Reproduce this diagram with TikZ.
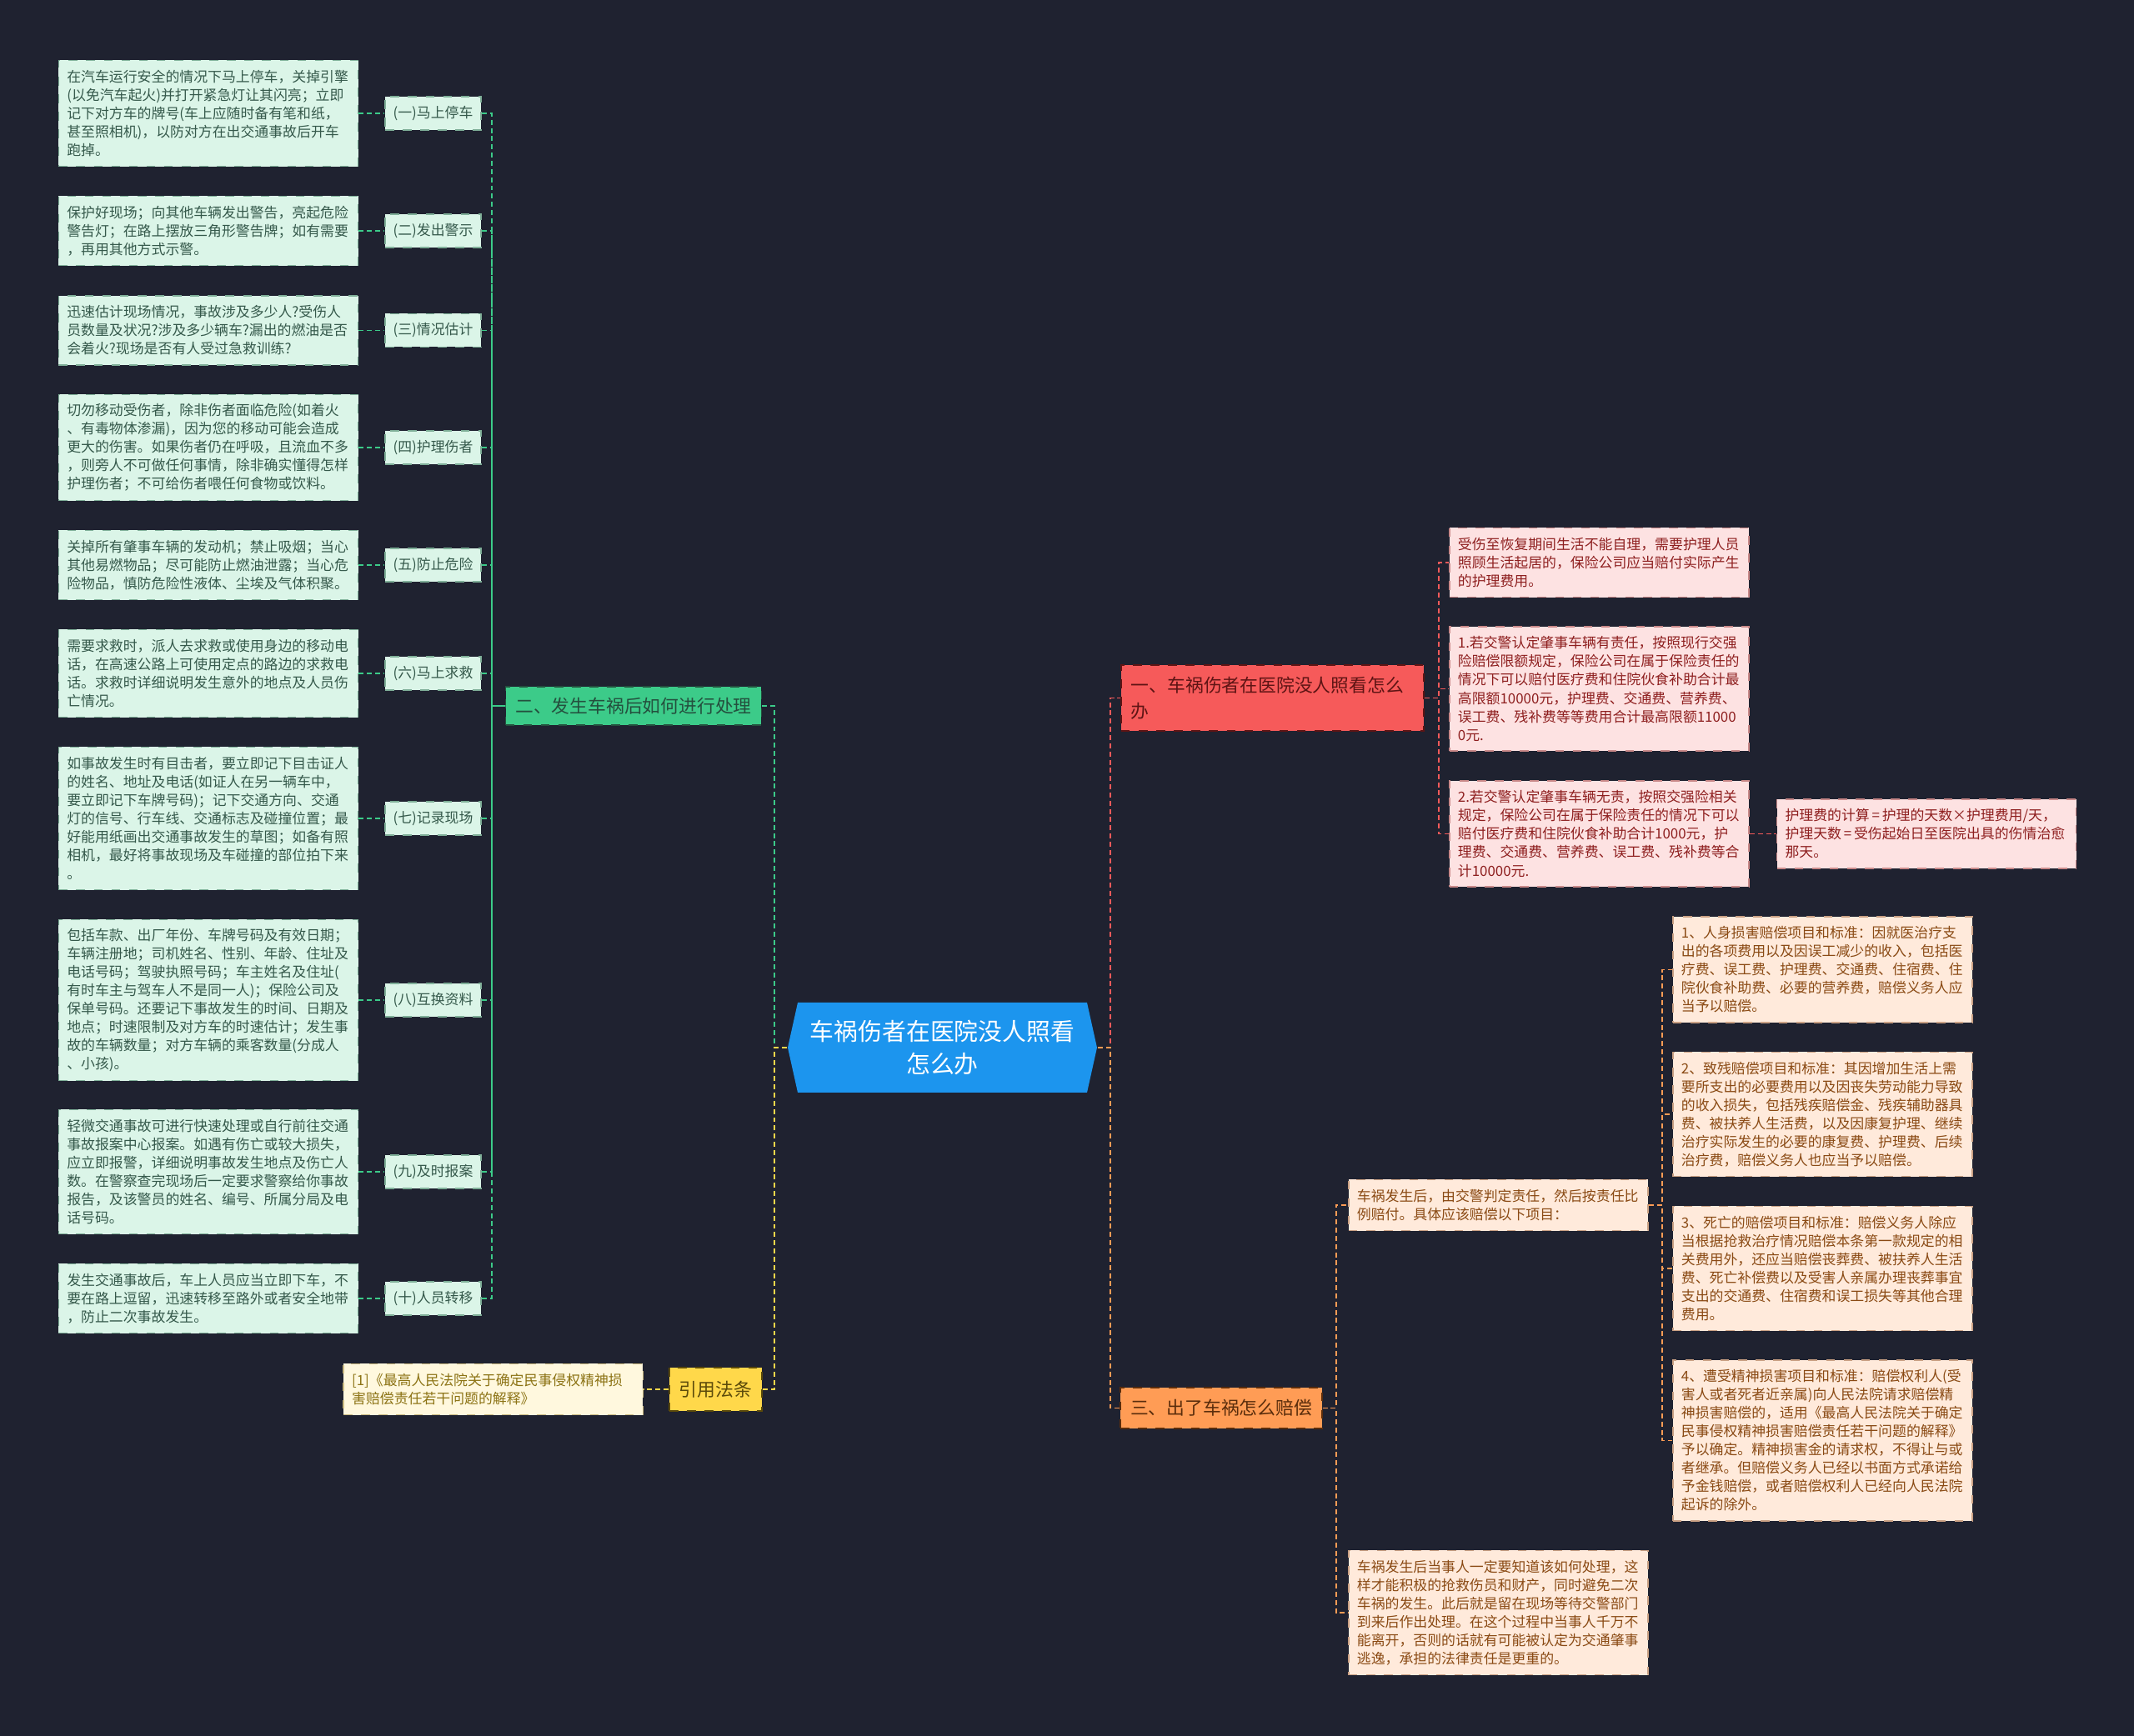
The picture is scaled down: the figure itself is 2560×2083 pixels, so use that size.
\documentclass[tikz,border=0pt]{standalone}
\usepackage{fontspec}
\setmainfont{Noto Sans CJK SC}
\usetikzlibrary{positioning}
\definecolor{pagebg}{HTML}{1F2230}
\definecolor{hubblue}{HTML}{1C95EE}
\definecolor{grn}{HTML}{3CCB89}
\definecolor{grndark}{HTML}{24503E}
\definecolor{grnleaf}{HTML}{DBF5E8}
\definecolor{grnline}{HTML}{7FAF98}
\definecolor{grntext}{HTML}{35594B}
\definecolor{red}{HTML}{F65A5A}
\definecolor{reddark}{HTML}{5E1414}
\definecolor{redleaf}{HTML}{FDE2E2}
\definecolor{redline}{HTML}{C98989}
\definecolor{redtext}{HTML}{8E1F1F}
\definecolor{org}{HTML}{FF9C55}
\definecolor{orgdark}{HTML}{5A2D0C}
\definecolor{orgleaf}{HTML}{FFEADB}
\definecolor{orgline}{HTML}{C9A083}
\definecolor{orgtext}{HTML}{8A4A14}
\definecolor{ylw}{HTML}{FFD84A}
\definecolor{ylwdark}{HTML}{5B4A0A}
\definecolor{ylwleaf}{HTML}{FFF8DE}
\definecolor{ylwline}{HTML}{C9B980}
\definecolor{ylwtext}{HTML}{8C7315}

\begin{document}
\begin{tikzpicture}[x=0.01cm, y=-0.01cm,
  leaf/.style={dashed, line width=0.4pt, text width=3.39cm, inner xsep=0.1cm,
               inner ysep=0pt, align=left, font=\fontsize{4.8pt}{6.26pt}\selectfont},
  nl/.style={minimum height=#1*0.22cm+0.17cm},
  gleaf/.style={leaf, fill=grnleaf, draw=grnline, text=grntext},
  rleaf/.style={leaf, fill=redleaf, draw=redline, text=redtext},
  oleaf/.style={leaf, fill=orgleaf, draw=orgline, text=orgtext},
  yleaf/.style={leaf, fill=ylwleaf, draw=ylwline, text=ylwtext},
  tag/.style={dashed, line width=0.4pt, fill=grnleaf, draw=grnline, text=grntext,
              minimum width=1.15cm, minimum height=0.40cm, inner sep=0pt,
              font=\fontsize{4.8pt}{6.26pt}\selectfont},
  branch/.style={dashed, line width=0.5pt, inner ysep=0pt,
                 font=\fontsize{6.2pt}{8.8pt}\selectfont},
  link/.style={line width=0.55pt, dash pattern=on 1.7pt off 1.1pt},
  glink/.style={link, grn}, rlink/.style={link, red},
  olink/.style={link, org}, ylink/.style={link, ylw}]

  % page
  \fill[pagebg] (0,0) rectangle (2560,2083);

  % centre topic
  \fill[hubblue] (945,1257) -- (957,1203) -- (1304,1203) -- (1316,1257)
    -- (1304,1311) -- (957,1311) -- cycle;
  \node[text=white, align=center, minimum width=3.71cm, minimum height=1.08cm,
        font=\fontsize{8.2pt}{11pt}\selectfont] (ctr) at (1130.5,1257)
    {车祸伤者在医院没人照看\\怎么办};

  % main branches
  \node[branch, fill=grn, draw=grndark, text=grndark, minimum width=3.06cm,
        minimum height=0.46cm] (br2) at (760,847) {二、发生车祸后如何进行处理};
  \node[branch, fill=ylw, draw=ylwdark, text=ylwdark, minimum width=1.11cm,
        minimum height=0.52cm] (br4) at (858.5,1667) {引用法条};
  \node[branch, fill=red, draw=reddark, text=reddark, text width=3.39cm,
        inner xsep=0.12cm, align=left, minimum height=0.79cm] (br1) at (1526.5,837.5)
    {一、车祸伤者在医院没人照看怎么\\办};
  \node[branch, fill=org, draw=orgdark, text=orgdark, minimum width=2.40cm,
        minimum height=0.49cm] (br3) at (1465,1689.5) {三、出了车祸怎么赔偿};

  % left: steps after the accident
  \node[tag] (tg1) at (519.5,136) {(一)马上停车};
  \node[tag] (tg2) at (519.5,277) {(二)发出警示};
  \node[tag] (tg3) at (519.5,396.5) {(三)情况估计};
  \node[tag] (tg4) at (519.5,537) {(四)护理伤者};
  \node[tag] (tg5) at (519.5,678) {(五)防止危险};
  \node[tag] (tg6) at (519.5,808) {(六)马上求救};
  \node[tag] (tg7) at (519.5,982) {(七)记录现场};
  \node[tag] (tg8) at (519.5,1200) {(八)互换资料};
  \node[tag] (tg9) at (519.5,1406) {(九)及时报案};
  \node[tag] (tg10) at (519.5,1558) {(十)人员转移};

  \node[gleaf, nl=5, left=0.31cm of tg1] (gl1)
    {在汽车运行安全的情况下马上停车，关掉引擎\\(以免汽车起火)并打开紧急灯让其闪亮；立即\\记下对方车的牌号(车上应随时备有笔和纸，\\甚至照相机)，以防对方在出交通事故后开车\\跑掉。};
  \node[gleaf, nl=3, left=0.31cm of tg2] (gl2)
    {保护好现场；向其他车辆发出警告，亮起危险\\警告灯；在路上摆放三角形警告牌；如有需要\\，再用其他方式示警。};
  \node[gleaf, nl=3, left=0.31cm of tg3] (gl3)
    {迅速估计现场情况，事故涉及多少人?受伤人\\员数量及状况?涉及多少辆车?漏出的燃油是否\\会着火?现场是否有人受过急救训练?};
  \node[gleaf, nl=5, left=0.31cm of tg4] (gl4)
    {切勿移动受伤者，除非伤者面临危险(如着火\\、有毒物体渗漏)，因为您的移动可能会造成\\更大的伤害。如果伤者仍在呼吸，且流血不多\\，则旁人不可做任何事情，除非确实懂得怎样\\护理伤者；不可给伤者喂任何食物或饮料。};
  \node[gleaf, nl=3, left=0.31cm of tg5] (gl5)
    {关掉所有肇事车辆的发动机；禁止吸烟；当心\\其他易燃物品；尽可能防止燃油泄露；当心危\\险物品，慎防危险性液体、尘埃及气体积聚。};
  \node[gleaf, nl=4, left=0.31cm of tg6] (gl6)
    {需要求救时，派人去求救或使用身边的移动电\\话，在高速公路上可使用定点的路边的求救电\\话。求救时详细说明发生意外的地点及人员伤\\亡情况。};
  \node[gleaf, nl=7, left=0.31cm of tg7] (gl7)
    {如事故发生时有目击者，要立即记下目击证人\\的姓名、地址及电话(如证人在另一辆车中，\\要立即记下车牌号码)；记下交通方向、交通\\灯的信号、行车线、交通标志及碰撞位置；最\\好能用纸画出交通事故发生的草图；如备有照\\相机，最好将事故现场及车碰撞的部位拍下来\\。};
  \node[gleaf, nl=8, left=0.31cm of tg8] (gl8)
    {包括车款、出厂年份、车牌号码及有效日期；\\车辆注册地；司机姓名、性别、年龄、住址及\\电话号码；驾驶执照号码；车主姓名及住址(\\有时车主与驾车人不是同一人)；保险公司及\\保单号码。还要记下事故发生的时间、日期及\\地点；时速限制及对方车的时速估计；发生事\\故的车辆数量；对方车辆的乘客数量(分成人\\、小孩)。};
  \node[gleaf, nl=6, left=0.31cm of tg9] (gl9)
    {轻微交通事故可进行快速处理或自行前往交通\\事故报案中心报案。如遇有伤亡或较大损失，\\应立即报警，详细说明事故发生地点及伤亡人\\数。在警察查完现场后一定要求警察给你事故\\报告，及该警员的姓名、编号、所属分局及电\\话号码。};
  \node[gleaf, nl=3, left=0.31cm of tg10] (gl10)
    {发生交通事故后，车上人员应当立即下车，不\\要在路上逗留，迅速转移至路外或者安全地带\\，防止二次事故发生。};

  \node[yleaf, nl=2, left=0.30cm of br4] (ref)
    {[1]《最高人民法院关于确定民事侵权精神损\\害赔偿责任若干问题的解释》};

  % right: nursing when nobody looks after the injured
  \node[rleaf, nl=3] (rl1) at (1918.5,675)
    {受伤至恢复期间生活不能自理，需要护理人员\\照顾生活起居的，保险公司应当赔付实际产生\\的护理费用。};
  \node[rleaf, nl=6] (rl2) at (1918.5,826.5)
    {1.若交警认定肇事车辆有责任，按照现行交强\\险赔偿限额规定，保险公司在属于保险责任的\\情况下可以赔付医疗费和住院伙食补助合计最\\高限额10000元，护理费、交通费、营养费、\\误工费、残补费等等费用合计最高限额11000\\0元.};
  \node[rleaf, nl=5] (rl3) at (1918.5,1000.5)
    {2.若交警认定肇事车辆无责，按照交强险相关\\规定，保险公司在属于保险责任的情况下可以\\赔付医疗费和住院伙食补助合计1000元，护\\理费、交通费、营养费、误工费、残补费等合\\计10000元.};
  \node[rleaf, nl=3, right=0.32cm of rl3] (rl4)
    {护理费的计算\,=\,护理的天数×护理费用/天，\\护理天数\,=\,受伤起始日至医院出具的伤情治愈\\那天。};

  % right: compensation
  \node[oleaf, nl=2] (o1) at (1797.5,1446)
    {车祸发生后，由交警判定责任，然后按责任比\\例赔付。具体应该赔偿以下项目：};
  \node[oleaf, nl=6] (o2) at (1797.5,1935)
    {车祸发生后当事人一定要知道该如何处理，这\\样才能积极的抢救伤员和财产，同时避免二次\\车祸的发生。此后就是留在现场等待交警部门\\到来后作出处理。在这个过程中当事人千万不\\能离开，否则的话就有可能被认定为交通肇事\\逃逸，承担的法律责任是更重的。};
  \node[oleaf, nl=5] (oc1) at (2186.5,1163.5)
    {1、人身损害赔偿项目和标准：因就医治疗支\\出的各项费用以及因误工减少的收入，包括医\\疗费、误工费、护理费、交通费、住宿费、住\\院伙食补助费、必要的营养费，赔偿义务人应\\当予以赔偿。};
  \node[oleaf, nl=6] (oc2) at (2186.5,1337)
    {2、致残赔偿项目和标准：其因增加生活上需\\要所支出的必要费用以及因丧失劳动能力导致\\的收入损失，包括残疾赔偿金、残疾辅助器具\\费、被扶养人生活费，以及因康复护理、继续\\治疗实际发生的必要的康复费、护理费、后续\\治疗费，赔偿义务人也应当予以赔偿。};
  \node[oleaf, nl=6] (oc3) at (2186.5,1522)
    {3、死亡的赔偿项目和标准：赔偿义务人除应\\当根据抢救治疗情况赔偿本条第一款规定的相\\关费用外，还应当赔偿丧葬费、被扶养人生活\\费、死亡补偿费以及受害人亲属办理丧葬事宜\\支出的交通费、住宿费和误工损失等其他合理\\费用。};
  \node[oleaf, nl=8] (oc4) at (2186.5,1728.5)
    {4、遭受精神损害项目和标准：赔偿权利人(受\\害人或者死者近亲属)向人民法院请求赔偿精\\神损害赔偿的，适用《最高人民法院关于确定\\民事侵权精神损害赔偿责任若干问题的解释》\\予以确定。精神损害金的请求权，不得让与或\\者继承。但赔偿义务人已经以书面方式承诺给\\予金钱赔偿，或者赔偿权利人已经向人民法院\\起诉的除外。};

  % connectors
  \foreach \i in {1,...,10} {
    \draw[glink] (gl\i.east) -- (tg\i.west);
    \draw[glink] (tg\i.east) -| ([xshift=-0.16cm]br2.west) -- (br2.west);
  }
  \draw[glink] (br2.east) -| ([xshift=-0.15cm]ctr.west) -- (ctr.west);
  \draw[ylink] (br4.east) -| ([xshift=-0.15cm]ctr.west) -- (ctr.west);
  \draw[ylink] (br4.west) -- (ref.east);

  \draw[rlink] (ctr.east) -- ([xshift=0.15cm]ctr.east) |- (br1.west);
  \draw[olink] (ctr.east) -- ([xshift=0.15cm]ctr.east) |- (br3.west);
  \foreach \i in {1,2,3}
    \draw[rlink] (br1.east) -- ([xshift=0.17cm]br1.east) |- (rl\i.west);
  \draw[rlink] (rl3.east) -- (rl4.west);
  \foreach \n in {o1,o2}
    \draw[olink] (br3.east) -- ([xshift=0.16cm]br3.east) |- (\n.west);
  \foreach \i in {1,...,4}
    \draw[olink] (o1.east) -- ([xshift=0.16cm]o1.east) |- (oc\i.west);
\end{tikzpicture}
\end{document}
